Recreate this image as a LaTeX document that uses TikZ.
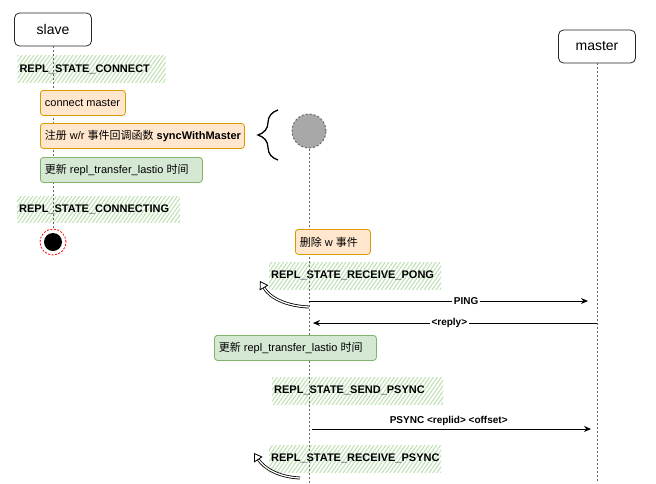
\documentclass[tikz,border=0pt]{standalone}
\usepackage{fontspec}
\setmainfont{Liberation Sans}
\newfontfamily\cjk{Noto Sans CJK SC}
\usetikzlibrary{arrows.meta,patterns.meta,decorations.pathreplacing}
\definecolor{orfill}{HTML}{FFE6CC}
\definecolor{ordraw}{HTML}{D79B00}
\definecolor{grfill}{HTML}{D5E8D4}
\definecolor{grdraw}{HTML}{82B366}
\definecolor{hatchc}{HTML}{C0E0B6}
\definecolor{lifec}{HTML}{666666}
\definecolor{circfill}{HTML}{A8A8A8}
\newcommand{\boxtext}[2]{\makebox[#1][l]{#2}}
\tikzset{
 actor/.style={draw=black!85, rounded corners=5pt, fill=white, minimum width=77pt, minimum height=33pt, line width=0.8pt, font=\fontsize{14}{16}\selectfont},
 note/.style={rounded corners=3pt, line width=0.8pt, anchor=north west, minimum height=25pt, inner xsep=4.5pt, inner ysep=0pt, font=\fontsize{11}{13}\selectfont},
 obox/.style={note, draw=ordraw, fill=orfill},
 gbox/.style={note, draw=grdraw, fill=grfill},
 hatch/.style={anchor=north west, pattern={Lines[angle=55,distance=3.2pt,line width=1.1pt]}, pattern color=hatchc, inner xsep=2pt, inner ysep=0pt, align=left, font=\bfseries\fontsize{11}{13}\selectfont},
 life/.style={draw=lifec, line width=1pt, dash pattern=on 2pt off 2pt},
 msg/.style={line width=0.9pt, -{Stealth[length=7pt,width=6pt]}},
 msglabel/.style={fill=white, font=\bfseries\fontsize{10}{12}\selectfont, inner sep=2pt},
 ret/.style={double=white, double distance=1.3pt, line width=0.8pt, -{Triangle[open, length=8pt, width=10pt]}},
}
\begin{document}
\begin{tikzpicture}[x=1pt,y=-1pt]
\useasboundingbox (0,0) rectangle (656,483);

% hatched state labels
\node[hatch, text width=144pt, minimum height=27pt] (h1) at (17,55) {REPL\_STATE\_CONNECT};
\node[hatch, text width=159pt, minimum height=26pt] (h2) at (17,196) {REPL\_STATE\_CONNECTING};
\node[hatch, text width=168pt, minimum height=27pt] (h3) at (269,262) {REPL\_STATE\_RECEIVE\_PONG};
\node[hatch, text width=167pt, minimum height=27pt] (h4) at (272,377) {REPL\_STATE\_SEND\_PSYNC};
\node[hatch, text width=168pt, minimum height=27pt] (h5) at (269,445) {REPL\_STATE\_RECEIVE\_PSYNC};

% actors
\node[actor] (slave) at (53,29.5) {slave};
\node[actor] (master) at (597,46.5) {master};

% end state and gray circle
\node[circle, fill=black, minimum size=18pt, inner sep=0pt] (endin) at (53,242) {};
\node[circle, draw=red, line width=0.8pt, dash pattern=on 2pt off 1.5pt, minimum size=26pt, inner sep=0pt] (endst) at (53,242) {};
\node[circle, fill=circfill, draw=lifec, line width=1pt, dash pattern=on 2pt off 2pt, minimum size=34pt, inner sep=0pt] (gc) at (309,131) {};

% lifelines
\coordinate (mEnd) at (597,483);
\coordinate (gEnd) at (309,483);
\draw[life] (slave.south) -- (endst.north);
\draw[life] (master.south) -- (mEnd);
\draw[life] (gc.south) -- (gEnd);

% boxes
\node[obox] (cm) at (40,90) {\boxtext{76pt}{connect master}};
\node[obox] (reg) at (40,123) {\boxtext{195pt}{{\cjk 注册}~w/r~{\cjk 事件回调函数}~\textbf{syncWithMaster}}};
\node[gbox] (upd1) at (40,157) {\boxtext{153pt}{{\cjk 更新}~repl\_transfer\_lastio~{\cjk 时间}}};
\node[obox] (del) at (295,229) {\boxtext{66pt}{{\cjk 删除}~w~{\cjk 事件}}};
\node[gbox] (upd2) at (214,335) {\boxtext{153pt}{{\cjk 更新}~repl\_transfer\_lastio~{\cjk 时间}}};

% brace
\coordinate (brB) at (278,160);
\coordinate (brT) at (278,110);
\draw[decorate, decoration={brace, amplitude=20pt}, line width=1.3pt] (brB) -- (brT);

% messages
\coordinate (p1s) at (309,301);
\coordinate (p1e) at (588,301);
\draw[msg] (p1s) -- node[msglabel, pos=0.563] (lping) {PING} (p1e);
\coordinate (p2s) at (597,323);
\coordinate (p2e) at (313,323);
\draw[msg] (p2s) -- node[msglabel, pos=0.52] (lreply) {<reply>} (p2e);
\coordinate (p3s) at (312,429);
\coordinate (p3e) at (591,429);
\draw[msg] (p3s) -- node[msglabel, fill=none, above=1pt, pos=0.49] (lpsync) {PSYNC <replid> <offset>} (p3e);

% return arrows
\coordinate (r1s) at (309,307);
\coordinate (r1e) at (260,281);
\draw[ret] (r1s) .. controls (286,306) and (270,298) .. (r1e);
\coordinate (r2s) at (300,478);
\coordinate (r2e) at (254,453);
\draw[ret] (r2s) .. controls (278,477) and (264,468) .. (r2e);
\end{tikzpicture}
\end{document}
